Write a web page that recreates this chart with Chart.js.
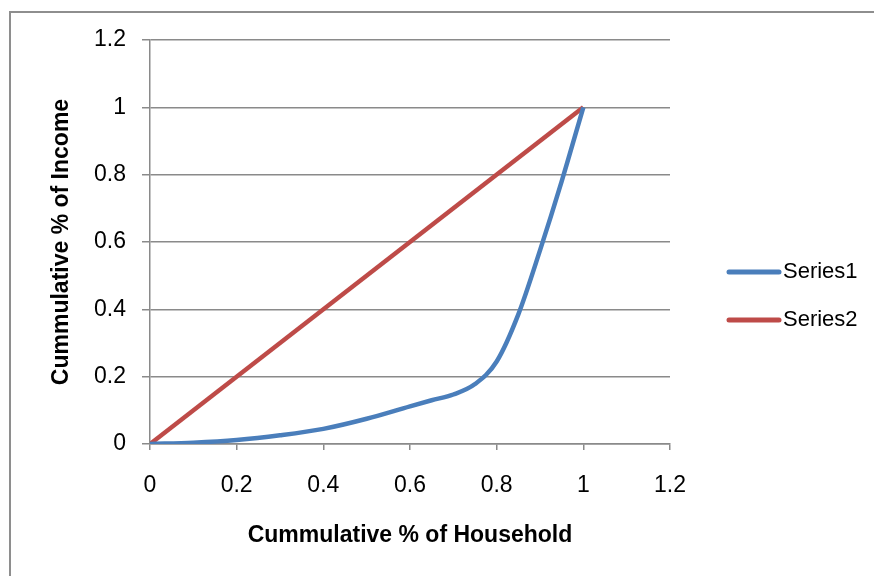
<!DOCTYPE html>
<html>
<head>
<meta charset="utf-8">
<script src="https://cdn.jsdelivr.net/npm/chart.js@4.4.1/dist/chart.umd.min.js"></script>
<style>
  body { margin: 0; background: #fff; }
  #wrap { position: relative; width: 874px; height: 576px; }
  #frame { position: absolute; left: 9px; top: 11px; right: 0; bottom: 0;
           border-left: 2px solid #8e8e8e; border-top: 2px solid #8e8e8e; }
  canvas { position: absolute; left: 0; top: 0; }
</style>
</head>
<body>
<div id="wrap">
  <div id="frame"></div>
  <canvas id="chart" width="874" height="576"></canvas>
</div>
<script>
// Lorenz curve values
const householdShare = [0, 0.1, 0.2, 0.3, 0.4, 0.5, 0.6, 0.65, 0.7, 0.75, 0.8, 0.85, 0.9, 0.95, 1];
const incomeShare = [0, 0.004, 0.012, 0.026, 0.045, 0.075, 0.112, 0.13, 0.147, 0.178, 0.245, 0.385, 0.575, 0.78, 1];
const equalityX = [0, 1];
const equalityY = [0, 1];
const seriesNames = ['Series1', 'Series2'];
const xTickLabels = ['0', '0.2', '0.4', '0.6', '0.8', '1', '1.2'];
const yTickLabels = ['0', '0.2', '0.4', '0.6', '0.8', '1', '1.2'];

const gridGrey = '#8a8a8a';
const tickFont = { family: 'Liberation Sans', size: 23 };
const titleFont = { family: 'Liberation Sans', size: 23, weight: 'bold' };

function toPoints(xs, ys) {
    return xs.map((x, i) => ({ x: x, y: ys[i] }));
}

// simple legend drawn on the right, from the dataset labels/colours
const sideLegend = {
    id: 'sideLegend',
    afterDraw(chart) {
        const ctx = chart.ctx;
        const rows = [272, 320];
        ctx.save();
        chart.data.datasets.forEach((ds, i) => {
            const y = rows[i];
            ctx.strokeStyle = ds.borderColor;
            ctx.lineWidth = 5;
            ctx.lineCap = 'round';
            ctx.beginPath();
            ctx.moveTo(729, y);
            ctx.lineTo(779, y);
            ctx.stroke();
            ctx.fillStyle = '#000';
            ctx.font = '22px "Liberation Sans"';
            ctx.textBaseline = 'middle';
            ctx.fillText(ds.label, 783, y);
        });
        ctx.restore();
    }
};

new Chart(document.getElementById('chart'), {
    type: 'scatter',
    data: {
        datasets: [{
            label: seriesNames[0],
            data: toPoints(householdShare, incomeShare),
            showLine: true,
            borderColor: '#4a7ebb',
            borderWidth: 4.5,
            pointRadius: 0,
            cubicInterpolationMode: 'monotone'
        }, {
            label: seriesNames[1],
            data: toPoints(equalityX, equalityY),
            showLine: true,
            borderColor: '#be4b48',
            borderWidth: 4.5,
            pointRadius: 0
        }]
    },
    options: {
        responsive: false,
        animation: false,
        layout: { padding: { left: 0, top: 40, right: 204, bottom: 0 } },
        plugins: {
            legend: { display: false },
            tooltip: { enabled: false }
        },
        scales: {
            x: {
                min: 0,
                max: 1.2,
                afterFit: (scale) => { scale.height = 132; },
                ticks: {
                    stepSize: 0.2,
                    color: '#000',
                    font: tickFont,
                    padding: 22,
                    maxRotation: 0,
                    callback: (v, i) => xTickLabels[i]
                },
                grid: { drawOnChartArea: false, drawTicks: true, tickLength: 6, color: gridGrey, lineWidth: 1.5 },
                border: { color: gridGrey, width: 1.5 },
                title: {
                    display: true,
                    text: 'Cummulative % of Household',
                    color: '#000',
                    font: titleFont,
                    padding: { top: 0, bottom: 27 }
                }
            },
            y: {
                min: 0,
                max: 1.2,
                afterFit: (scale) => { scale.width = 150; },
                ticks: {
                    stepSize: 0.2,
                    color: '#000',
                    font: tickFont,
                    padding: 16,
                    callback: (v, i) => yTickLabels[i]
                },
                grid: { color: gridGrey, lineWidth: 1.5, tickLength: 8 },
                border: { color: gridGrey, width: 1.5 },
                title: {
                    display: true,
                    text: 'Cummulative % of Income',
                    color: '#000',
                    font: titleFont,
                    padding: { top: 48, bottom: 0 }
                }
            }
        }
    },
    plugins: [sideLegend]
});
</script>
</body>
</html>
